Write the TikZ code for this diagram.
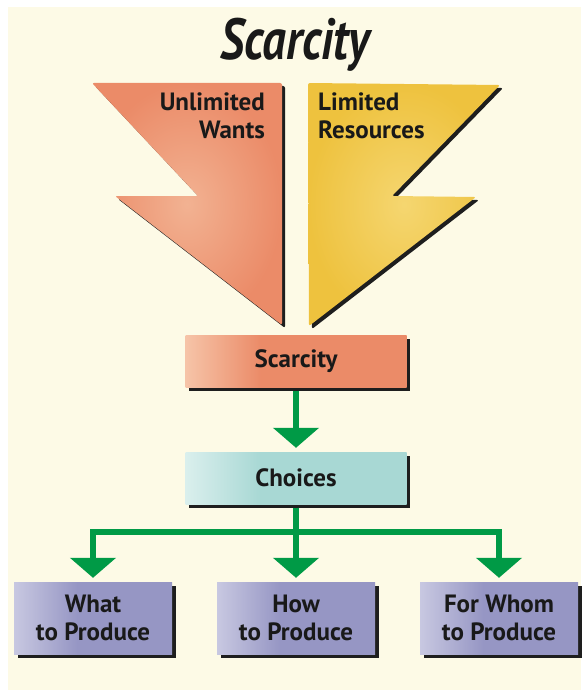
\documentclass[tikz,border=0pt]{standalone}
\usepackage{fontspec}
\setmainfont{PT Sans}
\newfontfamily\titlefont[FakeStretch=0.81]{PT Sans}
\usetikzlibrary{arrows.meta,shadows}
\definecolor{bgcream}{RGB}{253,250,230}
\definecolor{salmon}{RGB}{235,139,104}
\definecolor{salmonlt}{RGB}{246,196,168}
\definecolor{salmonmid}{RGB}{242,178,146}
\definecolor{gold}{RGB}{238,194,62}
\definecolor{goldlt}{RGB}{248,224,140}
\definecolor{goldmid}{RGB}{245,214,112}
\definecolor{tealb}{RGB}{168,216,212}
\definecolor{teallt}{RGB}{218,239,237}
\definecolor{lav}{RGB}{150,150,196}
\definecolor{lavlt}{RGB}{200,200,225}
\definecolor{grn}{RGB}{0,154,70}
\definecolor{shd}{RGB}{30,30,30}
\pgfdeclarehorizontalshading{scarshade}{100bp}{color(0bp)=(salmonlt); color(25bp)=(salmonlt); color(42bp)=(salmon); color(100bp)=(salmon)}
\pgfdeclarehorizontalshading{choishade}{100bp}{color(0bp)=(teallt); color(25bp)=(teallt); color(42bp)=(tealb); color(100bp)=(tealb)}
\pgfdeclarehorizontalshading{lavshade}{100bp}{color(0bp)=(lavlt); color(25bp)=(lavlt); color(45bp)=(lav); color(100bp)=(lav)}
\tikzset{
  boxnode/.style={inner sep=0pt, align=center, text=black!90,
    font=\bfseries\fontsize{25}{28}\selectfont,
    general shadow={fill=shd, shadow xshift=3.5pt, shadow yshift=-3.5pt}},
  lbl/.style={inner sep=0pt, text=black!90, font=\bfseries\fontsize{25}{28}\selectfont},
  garrow/.style={draw=grn, line width=6pt, -{Triangle[width=45pt,length=20pt]}, shorten >=4pt, shorten <=3.5pt},
  bigshadow/.style={fill=shd, shift={(3,3)}}
}
\begin{document}
\begin{tikzpicture}[x=1pt,y=-1pt]
\useasboundingbox (0,0) rectangle (581,690);
\fill[white] (0,0) rectangle (581,690);
\fill[bgcream] (8,7) rectangle (581,690);

% title
\node[anchor=base, inner sep=0pt, text=black!90,
  font=\titlefont\bfseries\itshape\fontsize{58}{60}\selectfont] (title) at (295,60) {Scarcity};

% big arrow shapes: shadows
\fill[bigshadow, rounded corners=2pt] (92,83) -- (282,83) -- (282,325) -- (115,196) -- (198,196) -- cycle;
\fill[bigshadow, rounded corners=2pt] (308,83) -- (500,85) -- (392,196) -- (476,197) -- (309,326) -- cycle;
% big arrow shapes
\shade[inner color=salmonmid, outer color=salmon, rounded corners=2pt]
  (92,83) -- (282,83) -- (282,325) -- (115,196) -- (198,196) -- cycle;
\shade[inner color=goldmid, outer color=gold, rounded corners=2pt]
  (308,83) -- (500,85) -- (392,196) -- (476,197) -- (309,326) -- cycle;

\node[lbl, anchor=north east, align=right] (wants) at (265,93) {Unlimited\\Wants};
\node[lbl, anchor=north west, align=left] (res) at (318,93) {Limited\\Resources};

% boxes
\node[boxnode, shade, shading=scarshade, minimum width=221pt, minimum height=52pt] (scar) at (296,361) {Scarcity};
\node[boxnode, shade, shading=choishade, minimum width=221pt, minimum height=52pt] (ch) at (296,478) {Choices};
\node[boxnode, shade, shading=lavshade, minimum width=158pt, minimum height=72pt] (what) at (93,618) {What\\to Produce};
\node[boxnode, shade, shading=lavshade, minimum width=158pt, minimum height=72pt] (how) at (296,618) {How\\to Produce};
\node[boxnode, shade, shading=lavshade, minimum width=158pt, minimum height=72pt] (whom) at (499,618) {For Whom\\to Produce};

% connectors
\coordinate (bar) at (296,532);
\draw[garrow] (scar.south) -- (ch.north);
\draw[garrow] (ch.south) -- (bar) -| (what.north);
\draw[garrow] (ch.south) -- (how.north);
\draw[garrow] (ch.south) -- (bar) -| (whom.north);
\end{tikzpicture}
\end{document}
